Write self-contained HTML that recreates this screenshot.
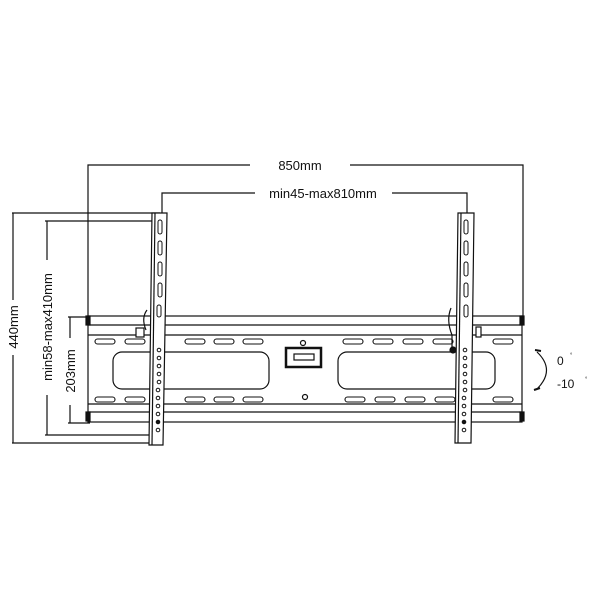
<!DOCTYPE html>
<html><head><style>body{margin:0;background:#fff}svg{display:block}text{font-family:"Liberation Sans",sans-serif;fill:#111}</style></head>
<body>
<svg width="600" height="600" viewBox="0 0 600 600" xmlns="http://www.w3.org/2000/svg">
<g stroke="#111" fill="none" stroke-width="1.2">
<!-- 850 dim -->
<path d="M88 320 V165 H250 M350 165 H523 V318"/>
<!-- min45 dim -->
<path d="M162 213 V193 H255 M392 193 H467 V213"/>
<!-- left vertical dims -->
<path d="M12 213 H160 M13 213 V300 M13 355 V443 M12 443 H155"/>
<path d="M45 221 H160 M47 221 V260 M47 395 V435 M45 435 H158"/>
<path d="M68 317 H90 M70 317 V338 M70 405 V423 M68 423 H90"/>
<!-- rail -->
<rect x="88" y="316" width="434" height="106" fill="#fff"/>
<path d="M88 325 H522 M88 335 H522 M88 404 H522 M88 412 H522"/>
<rect x="86" y="316" width="4" height="9" fill="#111"/>
<rect x="520" y="316" width="4" height="9" fill="#111"/>
<rect x="86" y="412" width="4" height="9" fill="#111"/>
<rect x="520" y="412" width="4" height="9" fill="#111"/>
<!-- cutouts -->
<rect x="113" y="352" width="156" height="37" rx="9"/>
<rect x="338" y="352" width="157" height="37" rx="9"/>
<!-- slots -->
<g stroke-width="1.1">
<rect x="95" y="339" width="20" height="5" rx="2.5"/><rect x="125" y="339" width="20" height="5" rx="2.5"/><rect x="185" y="339" width="20" height="5" rx="2.5"/><rect x="214" y="339" width="20" height="5" rx="2.5"/><rect x="243" y="339" width="20" height="5" rx="2.5"/>
<rect x="343" y="339" width="20" height="5" rx="2.5"/><rect x="373" y="339" width="20" height="5" rx="2.5"/><rect x="403" y="339" width="20" height="5" rx="2.5"/><rect x="433" y="339" width="20" height="5" rx="2.5"/><rect x="493" y="339" width="20" height="5" rx="2.5"/>
<rect x="95" y="397" width="20" height="5" rx="2.5"/><rect x="125" y="397" width="20" height="5" rx="2.5"/><rect x="185" y="397" width="20" height="5" rx="2.5"/><rect x="214" y="397" width="20" height="5" rx="2.5"/><rect x="243" y="397" width="20" height="5" rx="2.5"/>
<rect x="345" y="397" width="20" height="5" rx="2.5"/><rect x="375" y="397" width="20" height="5" rx="2.5"/><rect x="405" y="397" width="20" height="5" rx="2.5"/><rect x="435" y="397" width="20" height="5" rx="2.5"/><rect x="493" y="397" width="20" height="5" rx="2.5"/>
</g>
<circle cx="303" cy="343" r="2.5"/><circle cx="305" cy="397" r="2.5"/>
<rect x="286" y="348" width="35" height="19" stroke-width="2.5"/>
<rect x="294" y="354" width="20" height="6"/>
<!-- left bracket -->
<path d="M152 213 L149 445 H163 L167 213 Z" fill="#fff"/>
<path d="M155 213 L152 445"/>
<g stroke-width="1">
<rect x="158" y="220" width="4" height="14" rx="2"/><rect x="158" y="241" width="4" height="14" rx="2"/><rect x="158" y="262" width="4" height="14" rx="2"/><rect x="158" y="283" width="4" height="14" rx="2"/><rect x="157" y="305" width="4" height="12" rx="2"/>
</g>
<g stroke-width="1">
<circle cx="159" cy="350" r="1.8"/><circle cx="159" cy="358" r="1.8"/><circle cx="159" cy="366" r="1.8"/><circle cx="159" cy="374" r="1.8"/><circle cx="159" cy="382" r="1.8"/><circle cx="158" cy="390" r="1.8"/><circle cx="158" cy="398" r="1.8"/><circle cx="158" cy="406" r="1.8"/><circle cx="158" cy="414" r="1.8"/><circle cx="158" cy="422" r="1.8" fill="#111"/><circle cx="158" cy="430" r="1.8"/>
</g>
<rect x="136" y="328" width="8" height="9" fill="#fff"/>
<path d="M147 310 Q141 318 146 330"/>
<!-- right bracket -->
<path d="M458 213 L455 443 H471 L474 213 Z" fill="#fff"/>
<path d="M461 213 L458 443"/>
<g stroke-width="1">
<rect x="464" y="220" width="4" height="14" rx="2"/><rect x="464" y="241" width="4" height="14" rx="2"/><rect x="464" y="262" width="4" height="14" rx="2"/><rect x="464" y="283" width="4" height="14" rx="2"/><rect x="464" y="305" width="4" height="12" rx="2"/>
</g>
<g stroke-width="1">
<circle cx="465" cy="350" r="1.8"/><circle cx="465" cy="358" r="1.8"/><circle cx="465" cy="366" r="1.8"/><circle cx="465" cy="374" r="1.8"/><circle cx="465" cy="382" r="1.8"/><circle cx="465" cy="390" r="1.8"/><circle cx="464" cy="398" r="1.8"/><circle cx="464" cy="406" r="1.8"/><circle cx="464" cy="414" r="1.8"/><circle cx="464" cy="422" r="1.8" fill="#111"/><circle cx="464" cy="430" r="1.8"/>
</g>
<path d="M451 308 Q446 320 452 335 V350"/>
<circle cx="453" cy="350" r="3" fill="#111"/>
<rect x="476" y="327" width="5" height="10" fill="#fff"/>
<!-- arc -->
<path d="M537 352 Q556 370 537 389"/>
<path d="M535 350 L541 351 M534 390 L540 388" stroke-width="2"/>
</g>
<text x="300" y="170" font-size="13" text-anchor="middle">850mm</text>
<text x="323" y="198" font-size="13" text-anchor="middle">min45-max810mm</text>
<text transform="translate(18,327) rotate(-90)" font-size="13" text-anchor="middle">440mm</text>
<text transform="translate(52,327) rotate(-90)" font-size="13" text-anchor="middle">min58-max410mm</text>
<text transform="translate(75,371) rotate(-90)" font-size="13" text-anchor="middle">203mm</text>
<text x="557" y="365" font-size="12">0</text>
<text x="557" y="388" font-size="12">-10</text>
<text x="570" y="357" font-size="6" fill="#999">°</text>
<text x="585" y="381" font-size="6" fill="#999">°</text>
</svg>
</body></html>
